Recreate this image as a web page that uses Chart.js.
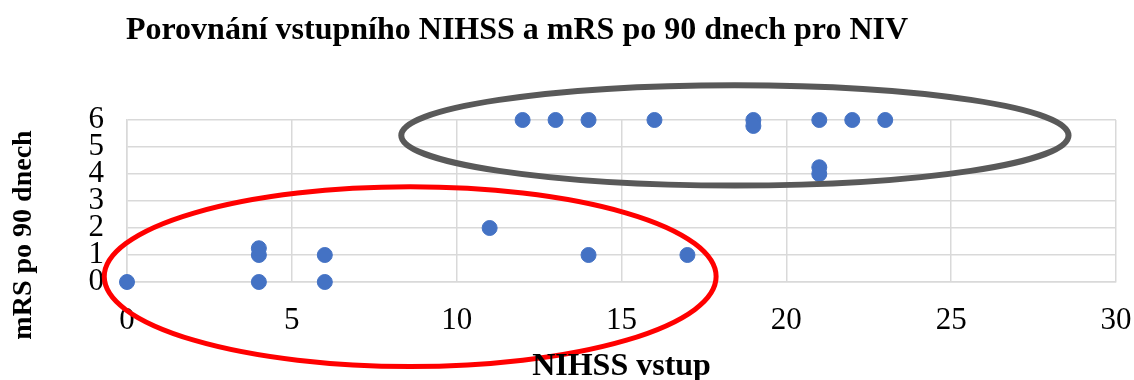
<!DOCTYPE html>
<html>
<head>
<meta charset="utf-8">
<script src="https://cdn.jsdelivr.net/npm/chart.js@4/dist/chart.umd.min.js"></script>
<style>
  html, body { margin: 0; padding: 0; background: #ffffff; }
  #wrap { width: 1134px; height: 380px; position: relative; }
</style>
</head>
<body>
<div id="wrap"><canvas id="c"></canvas></div>
<script>
// NIHSS na vstupu a mRS po 90 dnech (pacienti s NIV)
const nihss = [0, 4, 4, 4, 6, 6, 11, 14, 17, 12, 13, 14, 16, 19, 19, 21, 21, 21, 22, 23];
const mrs   = [0, 0, 1, 1.25, 0, 1, 2, 1, 1, 6, 6, 6, 6, 6, 5.78, 6, 4.25, 4, 6, 6];

const chartTitle = 'Porovnání vstupního NIHSS a mRS po 90 dnech pro NIV';
const xTitle = 'NIHSS vstup';
const yTitle = 'mRS po 90 dnech';

const xTicks = [0, 5, 10, 15, 20, 25, 30];
const yTicks = [0, 1, 2, 3, 4, 5, 6];

// Zvýrazněné skupiny: střed a poloosy v jednotkách os
const groupLow  = { cx: 8.59, cy: 0.2, rx: 9.28, ry: 3.33 };
const groupHigh = { cx: 18.44, cy: 5.43, rx: 10.12, ry: 1.86 };

const points = nihss.map((x, i) => ({ x: x, y: mrs[i] }));

const serif = '"Liberation Serif", "Times New Roman", serif';

const overlay = {
  id: 'overlay',
  afterDatasetsDraw(chart) {
    const { ctx, scales: { x, y } } = chart;
    const ring = (g, color, width) => {
      const cx = x.getPixelForValue(g.cx);
      const cy = y.getPixelForValue(g.cy);
      const rx = Math.abs(x.getPixelForValue(g.cx + g.rx) - cx);
      const ry = Math.abs(y.getPixelForValue(g.cy + g.ry) - cy);
      ctx.save();
      ctx.beginPath();
      ctx.ellipse(cx, cy, rx, ry, 0, 0, Math.PI * 2);
      ctx.strokeStyle = color;
      ctx.lineWidth = width;
      ctx.stroke();
      ctx.restore();
    };
    ring(groupHigh, '#595959', 6);
    ring(groupLow, '#ff0000', 5);
  },
  afterDraw(chart) {
    const { ctx, chartArea } = chart;
    ctx.save();
    ctx.fillStyle = '#000000';
    ctx.textAlign = 'center';
    ctx.textBaseline = 'alphabetic';
    ctx.font = 'bold 32px ' + serif;
    ctx.fillText(chartTitle, 517, 39);
    ctx.fillText(xTitle, (chartArea.left + chartArea.right) / 2, 375);
    ctx.translate(31, 235);
    ctx.rotate(-Math.PI / 2);
    ctx.font = 'bold 28px ' + serif;
    ctx.fillText(yTitle, 0, 0);
    ctx.restore();
  }
};

new Chart(document.getElementById('c'), {
  type: 'scatter',
  data: {
    datasets: [{
      label: 'NIV',
      data: points,
      backgroundColor: '#4472c4',
      borderColor: '#4472c4',
      pointRadius: 7.5,
      pointHoverRadius: 7.5,
      clip: false
    }]
  },
  options: {
    responsive: true,
    maintainAspectRatio: false,
    animation: false,
    layout: { padding: { left: 0, right: 18, top: 120, bottom: 0 } },
    plugins: {
      legend: { display: false },
      title: { display: false },
      tooltip: { enabled: false }
    },
    scales: {
      x: {
        type: 'linear',
        min: 0,
        max: 30,
        afterBuildTicks: s => { s.ticks = xTicks.map(v => ({ value: v })); },
        afterFit: s => { s.height = 98; s.paddingLeft = 0; s.paddingRight = 0; },
        grid: { color: '#d9d9d9', lineWidth: 1.5, drawTicks: false },
        border: { color: '#d9d9d9', width: 1.5 },
        ticks: {
          autoSkip: false,
          maxRotation: 0,
          padding: 20,
          color: '#000000',
          font: { family: serif, size: 31 }
        }
      },
      y: {
        type: 'linear',
        min: 0,
        max: 6,
        afterBuildTicks: s => { s.ticks = yTicks.map(v => ({ value: v })); },
        afterFit: s => { s.width = 127; s.paddingTop = 0; s.paddingBottom = 0; },
        grid: { color: '#d9d9d9', lineWidth: 1.5, drawTicks: false },
        border: { color: '#d9d9d9', width: 1.5 },
        ticks: {
          autoSkip: false,
          padding: 23,
          color: '#000000',
          font: { family: serif, size: 31, lineHeight: 0.9 }
        }
      }
    }
  },
  plugins: [overlay]
});
</script>
</body>
</html>
